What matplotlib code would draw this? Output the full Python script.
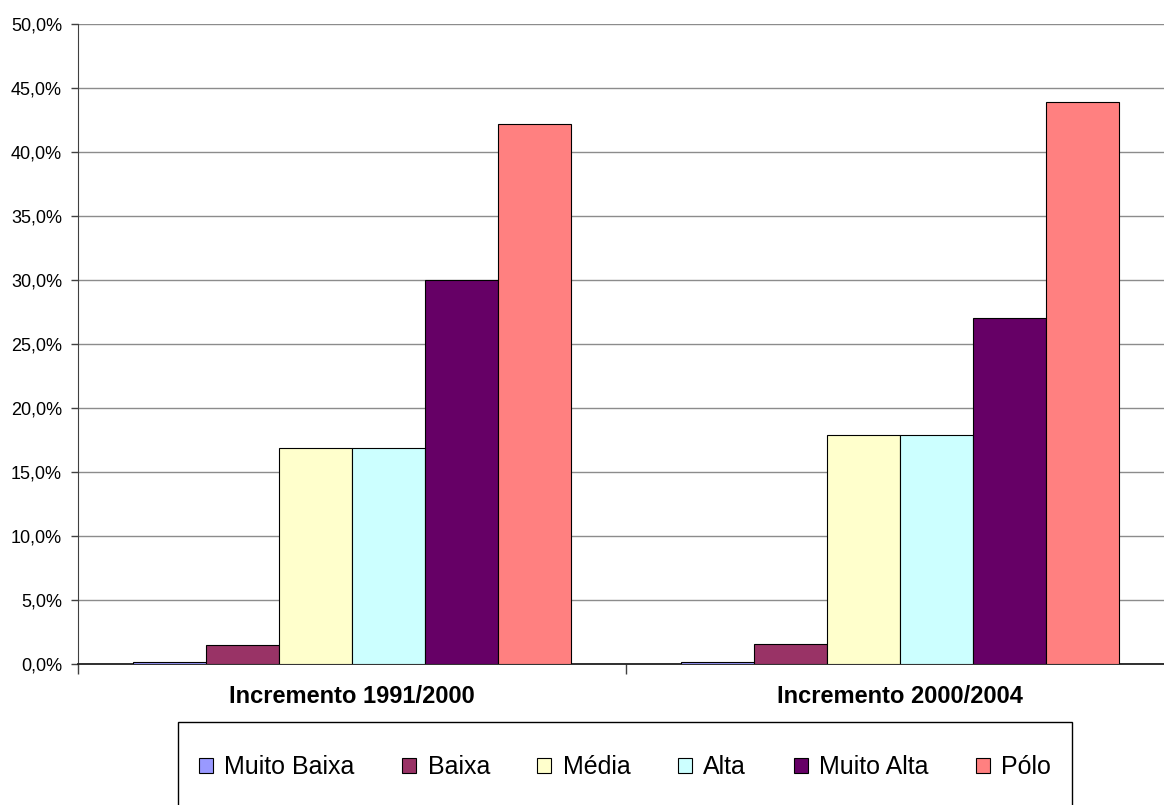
import numpy as np
import matplotlib.pyplot as plt
from matplotlib.patches import Rectangle
from matplotlib.ticker import FuncFormatter, FixedLocator

plt.rcParams['font.family'] = ['Liberation Sans', 'DejaVu Sans']

# dados
periodos = ["Incremento 1991/2000", "Incremento 2000/2004"]
classes = ["Muito Baixa", "Baixa", "Média", "Alta", "Muito Alta", "Pólo"]
cores = ["#9999FF", "#993366", "#FFFFCC", "#CCFFFF", "#660066", "#FF8080"]
valores = {
    "Muito Baixa": [0.15, 0.15],
    "Baixa": [1.5, 1.55],
    "Média": [16.9, 17.9],
    "Alta": [16.9, 17.9],
    "Muito Alta": [30.0, 27.0],
    "Pólo": [42.2, 43.9],
}

fig = plt.figure(figsize=(11.64, 8.05), dpi=100)
# area do grafico passa um pouco da borda direita
ax = fig.add_axes([78 / 1164, 141 / 805, 1096.5 / 1164, 640 / 805])

x = np.arange(len(periodos))
w = 73 / 548
for i, c in enumerate(classes):
    pos = x + (i - 2.5) * w
    ax.bar(pos, valores[c], width=w, color=cores[i], edgecolor="black",
           linewidth=0.8, label=c, zorder=3)

ax.set_xlim(-0.5, 1.5)
ax.set_ylim(0, 50)
ax.set_yticks(np.arange(0, 51, 5))
ax.yaxis.set_major_formatter(FuncFormatter(lambda v, p: f"{v:.1f}%".replace(".", ",")))
ax.yaxis.grid(True, color="#8c8c8c", linewidth=1, zorder=0)
ax.tick_params(axis="y", length=5, width=1, color="#404040", labelsize=13, pad=6.5)

ax.xaxis.set_major_locator(FixedLocator([-0.5, 0.5, 1.5]))
ax.xaxis.set_minor_locator(FixedLocator(x))
ax.set_xticklabels([], minor=False)
ax.set_xticklabels(periodos, minor=True, fontsize=17, fontweight="bold")
ax.tick_params(axis="x", which="major", length=7, width=1, color="#404040")
ax.tick_params(axis="x", which="minor", length=0, pad=15)

for s in ["top", "right"]:
    ax.spines[s].set_visible(False)
ax.spines["left"].set_color("#404040")
ax.spines["bottom"].set_color("#202020")
ax.spines["bottom"].set_linewidth(1.3)

# caixa da legenda
fig.patches.append(Rectangle((178 / 1164, -0.05), (1072 - 178) / 1164, (805 - 722) / 805 + 0.05,
                             transform=fig.transFigure, facecolor="white",
                             edgecolor="black", linewidth=1))
fig.legend(loc="center", bbox_to_anchor=(625 / 1164, 1 - 767 / 805), ncol=6,
           frameon=False, fontsize=18, handlelength=0.56, handleheight=0.56,
           handletextpad=0.45, columnspacing=1.9, borderpad=0)

fig.savefig("out.png", dpi=100)
